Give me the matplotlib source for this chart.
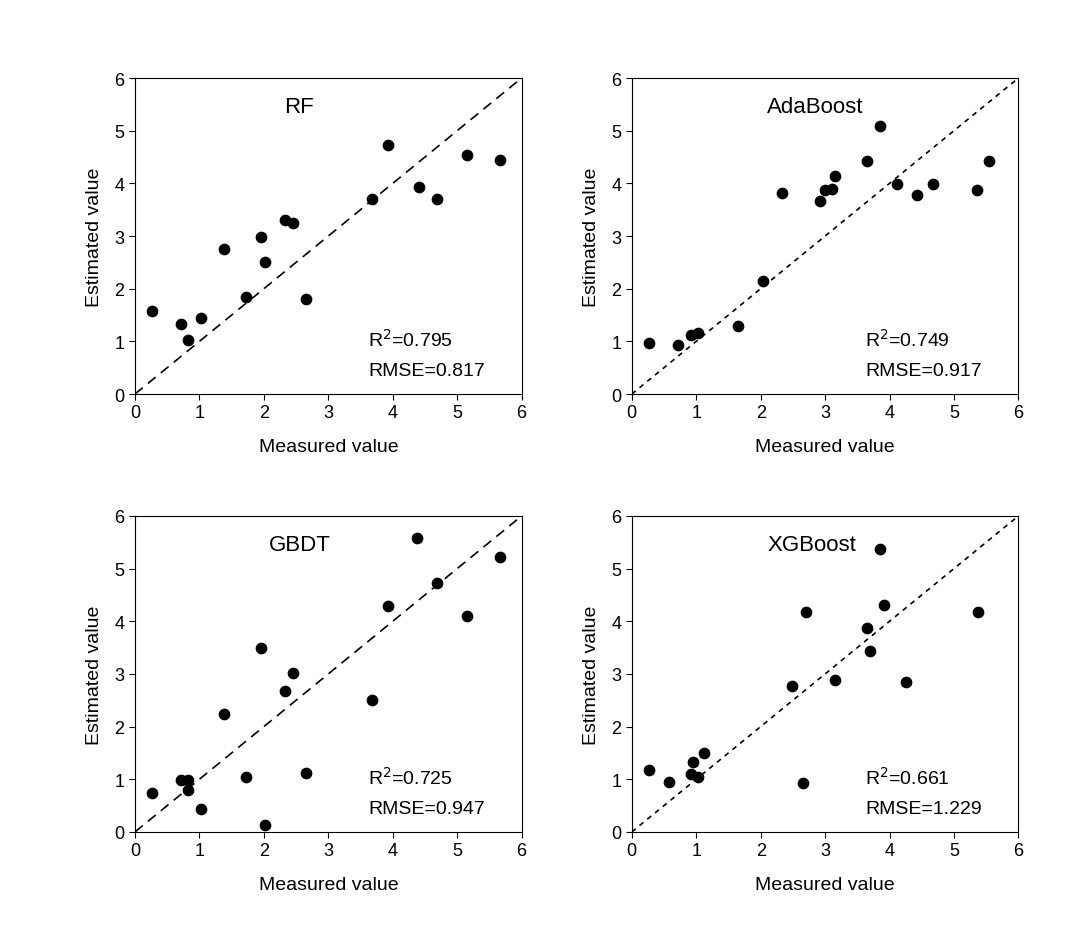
import matplotlib
matplotlib.use("Agg")
import matplotlib.pyplot as plt

plt.rcParams['font.family'] = ['Liberation Sans', 'DejaVu Sans']

names = ["RF", "AdaBoost", "GBDT", "XGBoost"]
r2 = ["0.795", "0.749", "0.725", "0.661"]
rmse = ["0.817", "0.917", "0.947", "1.229"]

rf_x = [0.27,0.72,0.82,1.03,1.38,1.72,1.95,2.02,2.33,2.45,2.65,3.68,3.92,4.40,4.68,5.15,5.67]
rf_y = [1.58,1.32,1.03,1.44,2.75,1.85,2.98,2.51,3.30,3.24,1.80,3.70,4.72,3.94,3.70,4.54,4.45]
ada_x = [0.27,0.72,0.92,1.03,1.65,2.03,2.33,2.92,3.00,3.10,3.15,3.65,3.85,4.12,4.42,4.68,5.35,5.55]
ada_y = [0.97,0.93,1.13,1.15,1.30,2.14,3.82,3.66,3.88,3.90,4.13,4.43,5.08,3.98,3.77,3.98,3.87,4.43]
gb_x = [0.27,0.72,0.82,0.82,1.03,1.38,1.72,1.95,2.02,2.33,2.45,2.65,3.68,3.92,4.38,4.68,5.15,5.67]
gb_y = [0.74,0.98,0.98,0.80,0.43,2.23,1.04,3.49,0.13,2.68,3.02,1.11,2.50,4.28,5.58,4.72,4.10,5.22]
xg_x = [0.27,0.58,0.92,0.95,1.03,1.12,2.48,2.65,2.70,3.15,3.65,3.70,3.85,3.92,4.25,5.38]
xg_y = [1.17,0.95,1.10,1.32,1.05,1.50,2.77,0.93,4.18,2.88,3.88,3.44,5.37,4.30,2.85,4.17]
xs = [rf_x, ada_x, gb_x, xg_x]
ys = [rf_y, ada_y, gb_y, xg_y]
dashes = [(6, 4), (3, 3), (6, 4), (3, 3)]
title_x = [2.55, 2.85, 2.55, 2.8]

fig = plt.figure(figsize=(10.8, 9.53), dpi=100)
pos = [(0.125, 0.5855), (0.585, 0.5855), (0.125, 0.126), (0.585, 0.126)]
for i in range(4):
    ax = fig.add_axes([pos[i][0], pos[i][1], 0.358, 0.3316])
    ax.plot([0, 6], [0, 6], color='black', lw=1.2, linestyle=(0, dashes[i]))
    ax.scatter(xs[i], ys[i], s=55, color='black', zorder=3, clip_on=False)
    ax.set_xlim(0, 6); ax.set_ylim(0, 6)
    ax.set_xticks(range(7)); ax.set_yticks(range(7))
    ax.tick_params(labelsize=13, direction='out', length=4)
    ax.set_xlabel("Measured value", fontsize=14, labelpad=12)
    ax.set_ylabel("Estimated value", fontsize=14, labelpad=8)
    ax.text(title_x[i], 5.45, names[i], fontsize=16, ha='center', va='center')
    ax.text(3.62, 1.05, "R$^2$=" + r2[i], fontsize=14, va='center')
    ax.text(3.62, 0.45, "RMSE=" + rmse[i], fontsize=14, va='center')
fig.savefig("out.png", dpi=100)
